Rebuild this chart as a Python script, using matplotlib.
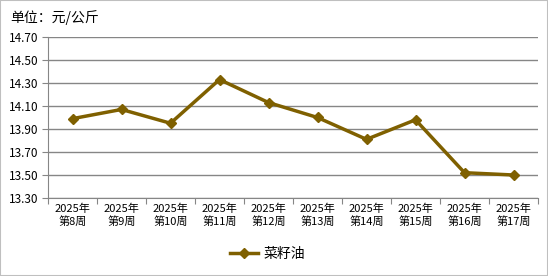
import matplotlib
matplotlib.use('Agg')
import matplotlib.pyplot as plt
import numpy as np

plt.rcParams['font.family'] = ['Noto Sans CJK SC', 'DejaVu Sans']

# 数据
weeks = ['2025年\n第8周', '2025年\n第9周', '2025年\n第10周', '2025年\n第11周', '2025年\n第12周',
         '2025年\n第13周', '2025年\n第14周', '2025年\n第15周', '2025年\n第16周', '2025年\n第17周']
prices = [13.99, 14.07, 13.95, 14.33, 14.13, 14.00, 13.81, 13.98, 13.52, 13.50]
yticks = [13.30, 13.50, 13.70, 13.90, 14.10, 14.30, 14.50, 14.70]

color = '#7F6000'
grid_color = '#868686'

fig = plt.figure(figsize=(5.48, 2.76), dpi=100)
ax = fig.add_axes([48 / 548, 1 - 198 / 276, 490 / 548, 161 / 276])

x = np.arange(len(weeks))
ax.plot(x, prices, color=color, linewidth=2.5, marker='D', markersize=5.5,
        markerfacecolor=color, markeredgecolor=color, label='菜籽油')

ax.set_xlim(-0.5, len(weeks) - 0.5)
ax.set_ylim(13.30, 14.70)
ax.set_yticks(yticks)
ax.set_yticklabels(['%.2f' % v for v in yticks], fontsize=8.5)
ax.yaxis.grid(True, color=grid_color, linewidth=1)
ax.set_axisbelow(True)

# 类别之间的刻度
ax.set_xticks(np.arange(len(weeks) + 1) - 0.5)
ax.set_xticklabels([])
ax.set_xticks(x, minor=True)
ax.set_xticklabels(weeks, minor=True, fontsize=8, linespacing=1.25)
ax.tick_params(axis='x', which='major', length=4, color=grid_color)
ax.tick_params(axis='x', which='minor', length=0, pad=4)
ax.tick_params(axis='y', length=4, color=grid_color, pad=3)

for s in ['top', 'right']:
    ax.spines[s].set_visible(False)
for s in ['left', 'bottom']:
    ax.spines[s].set_color(grid_color)

fig.text(10 / 548, 1 - 18 / 276, '单位：元/公斤', fontsize=10, va='center', ha='left')

ax.legend(loc='center', bbox_to_anchor=(0.448, -0.345), frameon=False, fontsize=10,
          handlelength=2.0, handletextpad=0.4, markerscale=0.85, borderaxespad=0)

# 外框
fig.patches.append(plt.Rectangle((0, 0), 1, 1, transform=fig.transFigure,
                                 fill=False, edgecolor='#BFBFBF', linewidth=1.5))

fig.savefig('out.png', dpi=100)
